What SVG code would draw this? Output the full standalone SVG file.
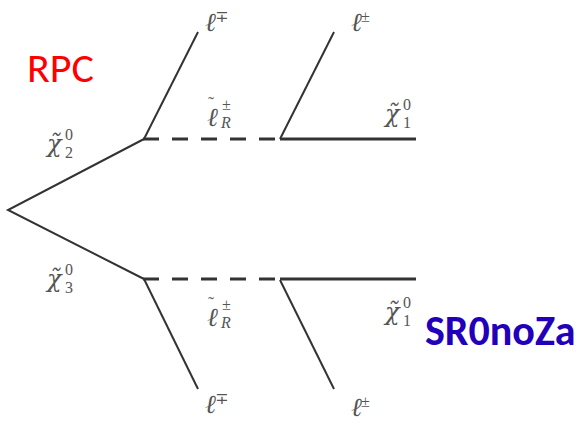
<svg xmlns="http://www.w3.org/2000/svg" width="582" height="426" viewBox="0 0 582 426">
<style>
.ln{stroke:#333;stroke-width:2;fill:none;stroke-linecap:butt}
.hz{stroke:#333;stroke-width:3;fill:none}
.ds{stroke:#333;stroke-width:3;fill:none;stroke-dasharray:16 13}
.m{font-family:"DejaVu Serif","Liberation Serif",serif;font-style:italic;fill:#555;font-size:24px}
.l{font-family:"Liberation Serif","DejaVu Serif",serif;font-style:italic;fill:#555;font-size:26px}
.t{font-size:18px;font-style:normal;fill:#666}
.s{font-family:"Liberation Serif","DejaVu Serif",serif;font-size:16px;font-style:normal;fill:#555}
.si{font-family:"Liberation Serif","DejaVu Serif",serif;font-size:16px;font-style:italic;fill:#555}
</style>
<rect width="582" height="426" fill="#fff"/>
<g id="connectors">
<path class="ln" d="M144,139 L8,210 L144,279"/>
<path class="ln" d="M144,139 L198,32"/>
<path class="ln" d="M280,139 L334,32"/>
<path class="ln" d="M144,279 L198,389"/>
<path class="ln" d="M280,280 L334,389"/>
<path class="ds" d="M143,139 H280"/>
<path class="ds" d="M143,279 H280"/>
<path class="hz" d="M280,139 H416"/>
<path class="hz" d="M280,279 H416"/>
</g>
<g id="label-rpc"><text x="27" y="82" font-family="Calibri,Carlito,'Liberation Sans',Arial,sans-serif" font-size="42" fill="#ff0000">RPC</text></g>
<g id="label-sr0noza"><text x="425" y="345" font-family="Calibri,Carlito,'Liberation Sans',Arial,sans-serif" font-size="42" font-weight="bold" fill="#2200bb">SR0noZa</text></g>
<g id="chi2"><text class="m" x="47" y="152">χ̃</text><text class="s" x="65" y="140">0</text><text class="s" x="65" y="158">2</text></g>
<g id="chi3"><text class="m" x="47" y="287">χ̃</text><text class="s" x="65" y="275">0</text><text class="s" x="65" y="293">3</text></g>
<g id="chi1-top"><text class="m" x="385" y="122">χ̃</text><text class="s" x="403" y="110">0</text><text class="s" x="403" y="128">1</text></g>
<g id="chi1-bot"><text class="m" x="385" y="320">χ̃</text><text class="s" x="403" y="308">0</text><text class="s" x="403" y="326">1</text></g>
<g id="slep-top"><text class="l" x="207" y="126">ℓ<tspan class="t" x="208" y="110">˜</tspan></text><text class="s" x="222" y="110">±</text><text class="si" x="221" y="128">R</text></g>
<g id="slep-bot"><text class="l" x="207" y="326">ℓ<tspan class="t" x="208" y="310">˜</tspan></text><text class="s" x="222" y="310">±</text><text class="si" x="221" y="328">R</text></g>
<g id="lep-top1"><text class="l" x="205" y="31">ℓ</text><text class="s" x="215" y="22">∓</text></g>
<g id="lep-top2"><text class="l" x="351" y="31">ℓ</text><text class="s" x="361" y="22">±</text></g>
<g id="lep-bot1"><text class="l" x="205" y="413">ℓ</text><text class="s" x="215" y="404">∓</text></g>
<g id="lep-bot2"><text class="l" x="351" y="416">ℓ</text><text class="s" x="361" y="407">±</text></g>
</svg>
